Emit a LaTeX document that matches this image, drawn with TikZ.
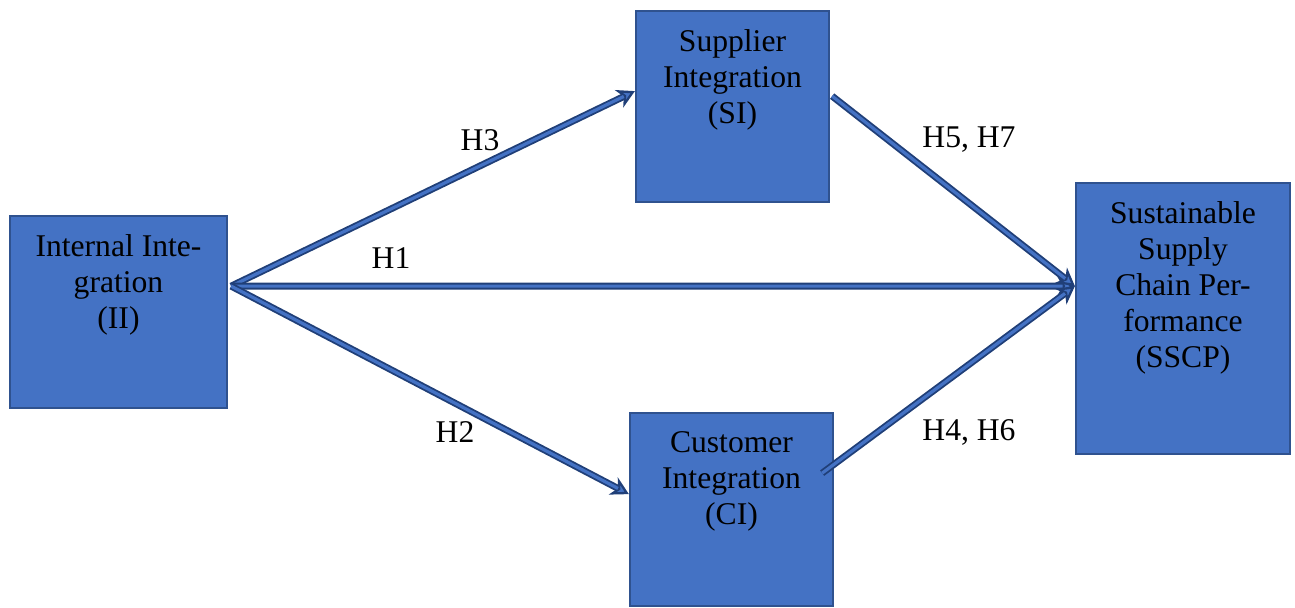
\documentclass[tikz,border=0pt]{standalone}
\usepackage{fontspec}
\setmainfont{Liberation Serif}
\usepackage{xcolor}
\usetikzlibrary{positioning,arrows.meta}

\definecolor{boxfill}{HTML}{4472C4}
\definecolor{boxline}{HTML}{2F528F}
\definecolor{arrline}{HTML}{203F78}

\begin{document}
\begin{tikzpicture}[x=0.02cm, y=-0.02cm,
    every node/.style={font=\fontsize{18}{20.5}\selectfont},
    box/.style={draw=boxline, fill=boxfill, line width=1.3pt, rectangle, anchor=north},
    lbl/.style={align=center, inner sep=0pt},
    hyp/.style={inner sep=0pt},
    conn/.style={draw=arrline, line width=3.9pt,
        -{Stealth[length=10pt, width=11pt, inset=3pt, fill=boxfill, line width=1.3pt]},
        postaction={draw=boxfill, line width=1.8pt, -, shorten >=7pt}}]
    \useasboundingbox (0,0) rectangle (1295,608);
    % boxes
    \node[box, minimum width=4.34cm, minimum height=3.84cm] (ii) at (118.5,215) {};
    \node[box, minimum width=3.86cm, minimum height=3.82cm] (si) at (732.5,10) {};
    \node[box, minimum width=4.06cm, minimum height=3.86cm] (ci) at (731.5,412) {};
    \node[box, minimum width=4.28cm, minimum height=5.42cm] (sscp) at (1183,182) {};
    \node[lbl, below=0.38cm of ii.north] (iit) {Internal Inte-\\gration\\(II)};
    \node[lbl, below=0.38cm of si.north] (sit) {Supplier\\Integration\\(SI)};
    \node[lbl, below=0.38cm of ci.north] (cit) {Customer\\Integration\\(CI)};
    \node[lbl, below=0.38cm of sscp.north] (sscpt) {Sustainable\\Supply\\Chain Per-\\formance\\(SSCP)};
    % connectors
    \draw[conn] ([xshift=0.06cm, yshift=0.52cm]ii.east) -- ([yshift=0.31cm]si.west);
    \draw[conn] ([xshift=0.06cm, yshift=0.52cm]ii.east) -- ([yshift=0.65cm]sscp.west);
    \draw[conn] ([xshift=0.06cm, yshift=0.52cm]ii.east) -- ([yshift=0.31cm]ci.west);
    \draw[conn] ([xshift=0.04cm, yshift=0.21cm]si.east) -- ([yshift=0.65cm]sscp.west);
    \draw[conn] ([xshift=-0.24cm, yshift=0.73cm]ci.east) -- ([yshift=0.65cm]sscp.west);
    % labels
    \node[hyp] (h3) at (480,140) {H3};
    \node[hyp] (h1) at (391,258) {H1};
    \node[hyp] (h2) at (455,432) {H2};
    \node[hyp] (h57) at (969,140) {H5, H7};
    \node[hyp] (h46) at (969,432) {H4, H6};
\end{tikzpicture}
\end{document}
